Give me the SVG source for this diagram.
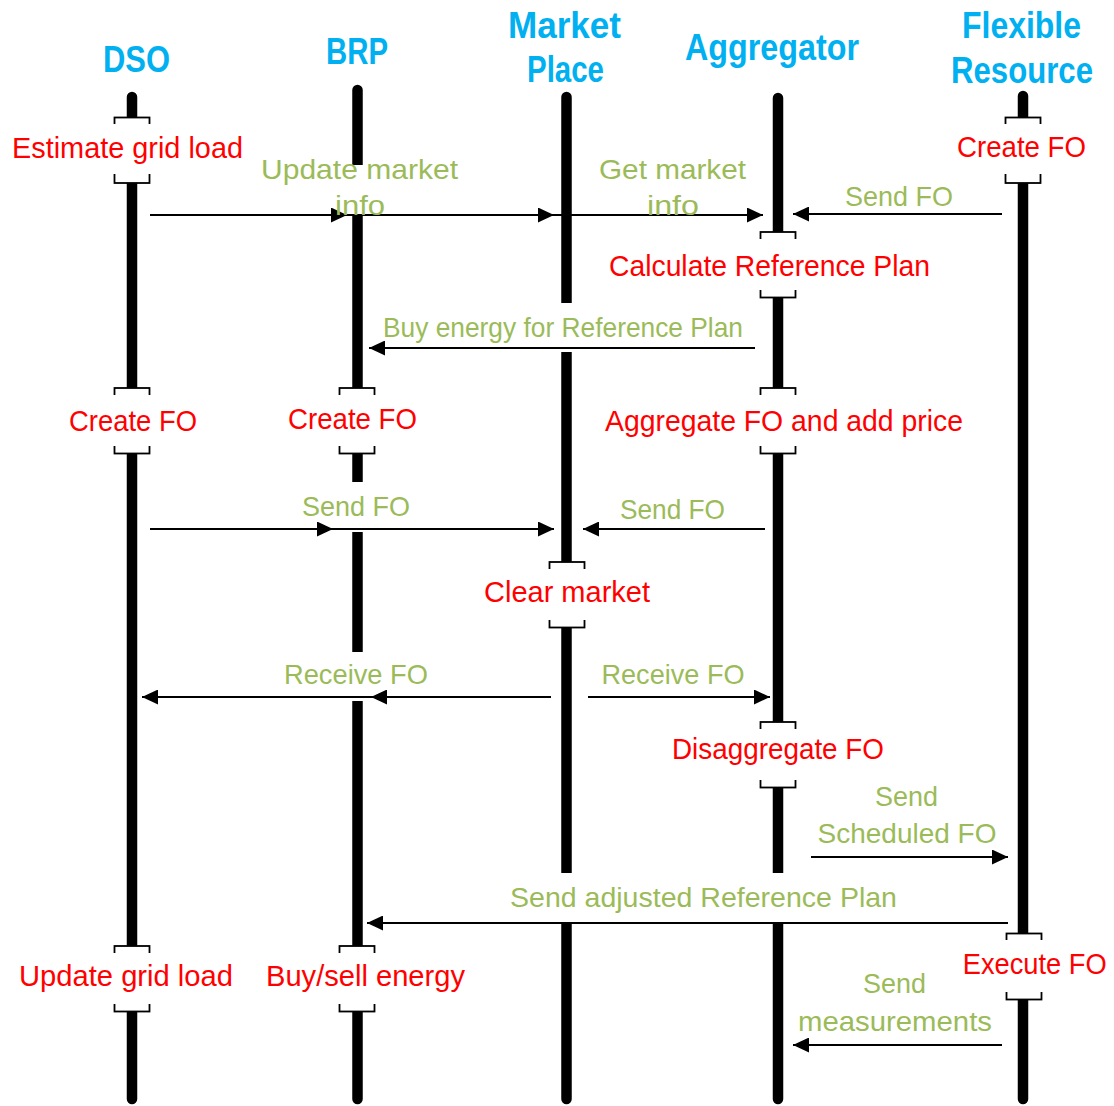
<svg xmlns="http://www.w3.org/2000/svg" width="1114" height="1106" viewBox="0 0 1114 1106">
<style>
.hdr{font-family:"Liberation Sans",Arial,sans-serif;font-weight:bold;font-size:36px;fill:#00B0F0;text-anchor:middle}
.act{font-family:"Liberation Sans",Arial,sans-serif;font-size:29px;fill:#FF0000;text-anchor:middle}
.msg{font-family:"Liberation Sans",Arial,sans-serif;font-size:27.5px;fill:#9BBB59;text-anchor:middle}
.life{stroke:#000;stroke-width:10.5;stroke-linecap:round;fill:none}
.box{fill:#fff;stroke:#000;stroke-width:1.8}
.bg{fill:#fff;stroke:none}
.arr{stroke:#000;stroke-width:2;fill:none;marker-end:url(#ah)}
</style>
<defs>
<marker id="ah" markerWidth="16" markerHeight="15" refX="16" refY="7.5" orient="auto" markerUnits="userSpaceOnUse">
<path d="M0,0 L16,7.5 L0,15 z" fill="#000"/>
</marker>
</defs>
<rect x="0" y="0" width="1114" height="1106" fill="#fff"/>

<g id="dso">
<text class="hdr" x="136.5" y="72" textLength="67" lengthAdjust="spacingAndGlyphs">DSO</text>
<line class="life" x1="132" y1="97" x2="132" y2="1099"/>
<g id="dso-estimate">
<rect class="box" x="114.5" y="117.5" width="35" height="65.5"/>
<rect class="bg" x="8" y="124" width="240" height="50"/>
<text class="act" x="127.5" y="158" textLength="231" lengthAdjust="spacingAndGlyphs">Estimate grid load</text>
</g>
<g id="dso-create">
<rect class="box" x="114.5" y="388" width="35" height="65.5"/>
<rect class="bg" x="62" y="395" width="140" height="51"/>
<text class="act" x="133" y="431" textLength="128" lengthAdjust="spacingAndGlyphs">Create FO</text>
</g>
<g id="dso-update">
<rect class="box" x="114.5" y="946" width="35" height="65.5"/>
<rect class="bg" x="14" y="953" width="225" height="51"/>
<text class="act" x="126" y="986" textLength="214" lengthAdjust="spacingAndGlyphs">Update grid load</text>
</g>
</g>

<g id="brp">
<text class="hdr" x="357" y="64" textLength="62" lengthAdjust="spacingAndGlyphs">BRP</text>
<line class="life" x1="357.5" y1="90" x2="357.5" y2="1099"/>
<g id="brp-create">
<rect class="box" x="339.5" y="388" width="35" height="65.5"/>
<rect class="bg" x="284" y="395" width="138" height="51"/>
<text class="act" x="352.5" y="429" textLength="129" lengthAdjust="spacingAndGlyphs">Create FO</text>
</g>
<g id="brp-buysell">
<rect class="box" x="339.5" y="946" width="35" height="65.5"/>
<rect class="bg" x="262" y="953" width="208" height="51"/>
<text class="act" x="365.5" y="986" textLength="199" lengthAdjust="spacingAndGlyphs">Buy/sell energy</text>
</g>
</g>

<g id="market">
<text class="hdr" x="564.5" y="38" textLength="113" lengthAdjust="spacingAndGlyphs">Market</text>
<text class="hdr" x="565.5" y="82" textLength="77" lengthAdjust="spacingAndGlyphs">Place</text>
<line class="life" x1="566.5" y1="97" x2="566.5" y2="1099"/>
<g id="market-clear">
<rect class="box" x="549.5" y="562" width="35" height="65.5"/>
<rect class="bg" x="480" y="569" width="175" height="51"/>
<text class="act" x="567" y="602" textLength="166" lengthAdjust="spacingAndGlyphs">Clear market</text>
</g>
</g>

<g id="aggregator">
<text class="hdr" x="772" y="60" textLength="174" lengthAdjust="spacingAndGlyphs">Aggregator</text>
<line class="life" x1="778" y1="98" x2="778" y2="1099"/>
<g id="agg-calc">
<rect class="box" x="760.5" y="232" width="35" height="65.5"/>
<rect class="bg" x="604" y="239" width="332" height="51"/>
<text class="act" x="769.5" y="276" textLength="321" lengthAdjust="spacingAndGlyphs">Calculate Reference Plan</text>
</g>
<g id="agg-aggregate">
<rect class="box" x="760.5" y="388" width="35" height="65.5"/>
<rect class="bg" x="600" y="395" width="368" height="51"/>
<text class="act" x="784" y="431" textLength="358" lengthAdjust="spacingAndGlyphs">Aggregate FO and add price</text>
</g>
<g id="agg-disaggregate">
<rect class="box" x="760.5" y="722" width="35" height="65.5"/>
<rect class="bg" x="667" y="729" width="222" height="51"/>
<text class="act" x="778" y="759" textLength="212" lengthAdjust="spacingAndGlyphs">Disaggregate FO</text>
</g>
</g>

<g id="flexible-resource">
<text class="hdr" x="1021.5" y="38" textLength="119" lengthAdjust="spacingAndGlyphs">Flexible</text>
<text class="hdr" x="1022" y="83" textLength="142" lengthAdjust="spacingAndGlyphs">Resource</text>
<line class="life" x1="1023" y1="96" x2="1023" y2="1099"/>
<g id="flex-create">
<rect class="box" x="1005.5" y="117.5" width="35" height="65.5"/>
<rect class="bg" x="952" y="124" width="140" height="50"/>
<text class="act" x="1021.5" y="157" textLength="129" lengthAdjust="spacingAndGlyphs">Create FO</text>
</g>
<g id="flex-execute">
<rect class="box" x="1006.5" y="933.5" width="35" height="66"/>
<rect class="bg" x="958" y="940" width="152" height="52"/>
<text class="act" x="1034.7" y="974" textLength="144" lengthAdjust="spacingAndGlyphs">Execute FO</text>
</g>
</g>

<g id="connectors">
<rect class="bg" x="258" y="165" width="204" height="51"/>
<rect class="bg" x="380" y="303" width="366" height="49"/>
<rect class="bg" x="298" y="482" width="116" height="50"/>
<rect class="bg" x="280" y="652" width="152" height="49"/>
<rect class="bg" x="506" y="873" width="395" height="50"/>

<line class="arr" x1="150" y1="215" x2="347" y2="215"/>
<line class="arr" x1="347" y1="215" x2="554" y2="215"/>
<line class="arr" x1="554" y1="215" x2="763" y2="215"/>
<line class="arr" x1="1002" y1="214" x2="793" y2="214"/>
<line class="arr" x1="755" y1="348" x2="369" y2="348"/>
<line class="arr" x1="150" y1="529" x2="333" y2="529"/>
<line class="arr" x1="333" y1="529" x2="554" y2="529"/>
<line class="arr" x1="765" y1="529" x2="583" y2="529"/>
<line class="arr" x1="551" y1="697" x2="371" y2="697"/>
<line class="arr" x1="371" y1="697" x2="142" y2="697"/>
<line class="arr" x1="588" y1="697" x2="770" y2="697"/>
<line class="arr" x1="811" y1="857" x2="1008" y2="857"/>
<line class="arr" x1="1008" y1="923" x2="367" y2="923"/>
<line class="arr" x1="1002" y1="1045" x2="793" y2="1045"/>

<text class="msg" x="359.5" y="179" textLength="197" lengthAdjust="spacingAndGlyphs">Update market</text>
<text class="msg" x="360" y="215" textLength="50" lengthAdjust="spacingAndGlyphs">info</text>
<text class="msg" x="672.5" y="179" textLength="147" lengthAdjust="spacingAndGlyphs">Get market</text>
<text class="msg" x="673" y="215" textLength="52" lengthAdjust="spacingAndGlyphs">info</text>
<text class="msg" x="899" y="206" textLength="108" lengthAdjust="spacingAndGlyphs">Send FO</text>
<text class="msg" x="563" y="337" textLength="360" lengthAdjust="spacingAndGlyphs">Buy energy for Reference Plan</text>
<text class="msg" x="356" y="516" textLength="108" lengthAdjust="spacingAndGlyphs">Send FO</text>
<text class="msg" x="672.5" y="519" textLength="105" lengthAdjust="spacingAndGlyphs">Send FO</text>
<text class="msg" x="356" y="684" textLength="144" lengthAdjust="spacingAndGlyphs">Receive FO</text>
<text class="msg" x="673" y="684" textLength="143" lengthAdjust="spacingAndGlyphs">Receive FO</text>
<text class="msg" x="906.5" y="806" textLength="63" lengthAdjust="spacingAndGlyphs">Send</text>
<text class="msg" x="907" y="843" textLength="179" lengthAdjust="spacingAndGlyphs">Scheduled FO</text>
<text class="msg" x="703.5" y="907" textLength="387" lengthAdjust="spacingAndGlyphs">Send adjusted Reference Plan</text>
<text class="msg" x="894.5" y="993" textLength="63" lengthAdjust="spacingAndGlyphs">Send</text>
<text class="msg" x="895" y="1031" textLength="194" lengthAdjust="spacingAndGlyphs">measurements</text>
</g>
</svg>
